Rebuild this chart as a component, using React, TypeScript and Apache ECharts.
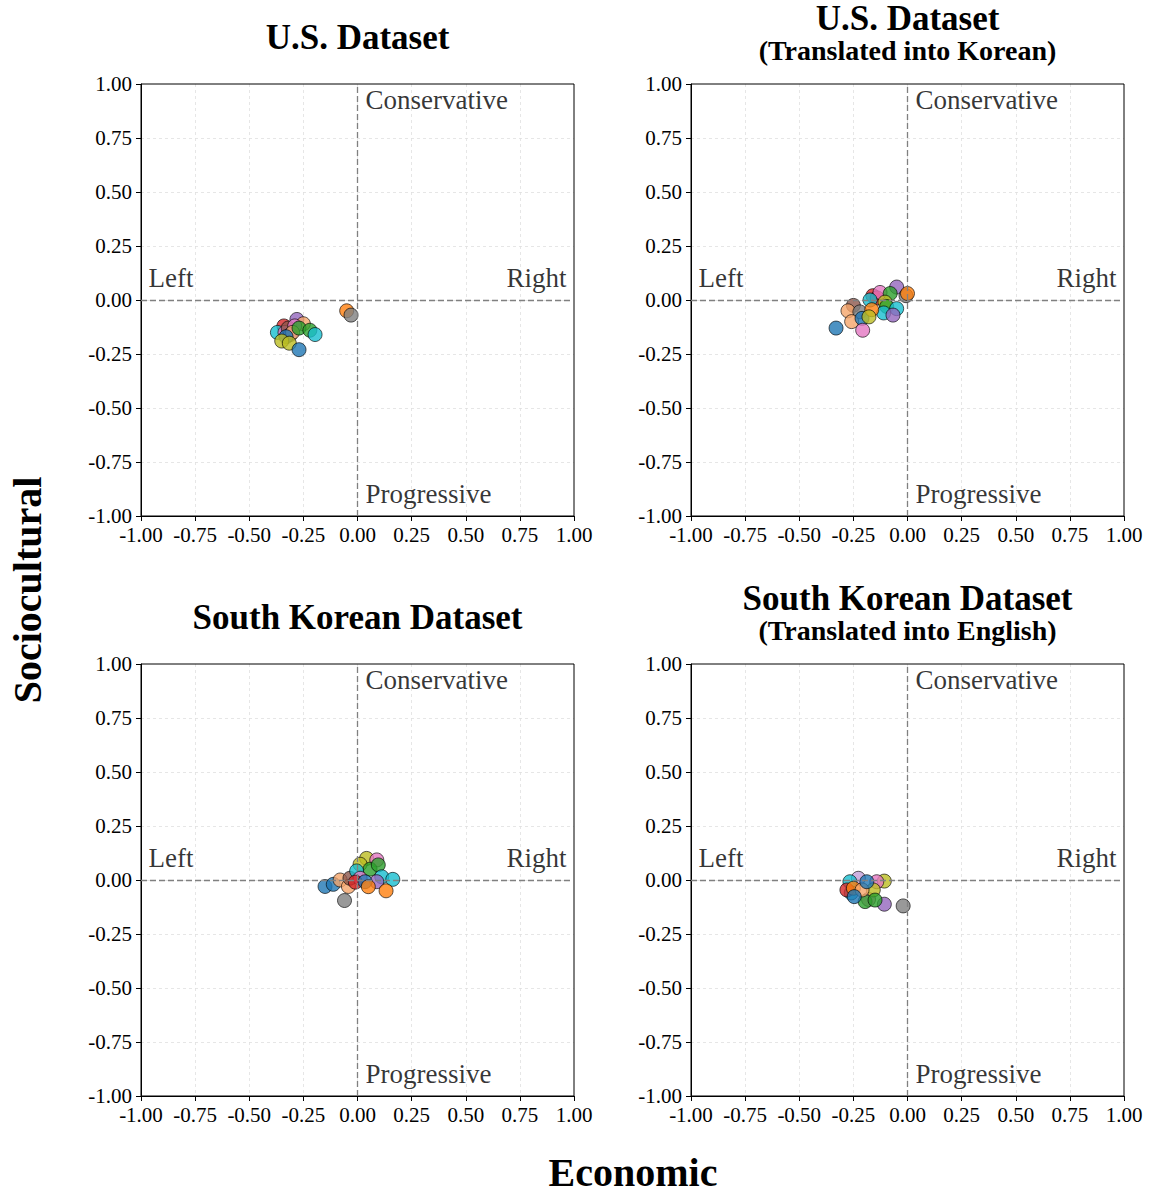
import React, { useEffect, useRef } from "react";
import * as echarts from "echarts";

const C = {
  blue: "#1f77b4", orange: "#ff7f0e", green: "#2ca02c", red: "#d62728", purple: "#9467bd",
  brown: "#8c564b", pink: "#e377c2", gray: "#7f7f7f", olive: "#bcbd22", cyan: "#17becf",
  peach: "#f5a56a", lilac: "#c29fd8",
};

const panelTitles = ["U.S. Dataset", "U.S. Dataset", "South Korean Dataset", "South Korean Dataset"];
const panelSubtitles = ["", "(Translated into Korean)", "", "(Translated into English)"];

// Panel 1: U.S. Dataset
const usX = [-0.05, -0.03, -0.28, -0.34, -0.37, -0.335, -0.25, -0.32, -0.29, -0.31, -0.30, -0.27, -0.22, -0.196, -0.33, -0.35, -0.315, -0.27];
const usY = [-0.05, -0.07, -0.09, -0.12, -0.15, -0.15, -0.11, -0.13, -0.12, -0.16, -0.15, -0.13, -0.14, -0.16, -0.17, -0.19, -0.20, -0.23];
const usC = ["orange", "gray", "purple", "red", "cyan", "pink", "peach", "brown", "pink", "purple", "peach", "green", "green", "cyan", "blue", "olive", "olive", "blue"];

// Panel 2: U.S. Dataset translated into Korean
const usKoX = [-0.33, -0.05, -0.007, 0.0, -0.16, -0.14, -0.127, -0.08, -0.173, -0.104, -0.096, -0.05, -0.11, -0.067, -0.25, -0.275, -0.22, -0.258, -0.21, -0.165, -0.178, -0.207];
const usKoY = [-0.13, 0.06, 0.02, 0.03, 0.02, 0.01, 0.035, 0.03, 0.0, -0.01, -0.03, -0.04, -0.06, -0.07, -0.025, -0.05, -0.055, -0.10, -0.085, -0.045, -0.078, -0.14];
const usKoC = ["blue", "purple", "gray", "orange", "red", "red", "pink", "green", "cyan", "olive", "green", "cyan", "cyan", "purple", "brown", "peach", "gray", "peach", "blue", "orange", "olive", "pink"];

// Panel 3: South Korean Dataset
const krX = [-0.15, -0.112, -0.06, -0.08, -0.042, -0.035, 0.042, 0.012, 0.089, 0.058, 0.096, -0.004, 0.112, 0.163, 0.012, -0.01, 0.089, 0.035, 0.05, 0.132];
const krY = [-0.03, -0.02, -0.095, 0.0, -0.03, 0.008, 0.10, 0.073, 0.093, 0.05, 0.07, 0.042, 0.015, 0.003, 0.008, -0.01, -0.008, -0.008, -0.031, -0.05];
const krC = ["blue", "blue", "gray", "peach", "peach", "brown", "olive", "olive", "pink", "green", "green", "cyan", "cyan", "cyan", "pink", "red", "purple", "blue", "orange", "orange"];

// Panel 4: South Korean Dataset translated into English
const krEnX = [-0.02, -0.107, -0.107, -0.142, -0.18, -0.158, -0.196, -0.15, -0.227, -0.266, -0.26, -0.28, -0.25, -0.21, -0.188, -0.246];
const krEnY = [-0.12, -0.005, -0.112, -0.008, -0.09, -0.046, -0.10, -0.093, 0.008, -0.008, -0.06, -0.046, -0.038, -0.046, -0.008, -0.077];
const krEnC = ["gray", "olive", "purple", "pink", "pink", "olive", "green", "green", "lilac", "cyan", "cyan", "red", "orange", "peach", "blue", "blue"];

const panelX = [usX, usKoX, krX, krEnX];
const panelY = [usY, usKoY, krY, krEnY];
const panelC = [usC, usKoC, krC, krEnC];

const annotations = [
  { name: "Conservative", x: 0.035, y: 0.925, align: "left" },
  { name: "Progressive", x: 0.035, y: -0.9, align: "left" },
  { name: "Left", x: -0.968, y: 0.1, align: "left" },
  { name: "Right", x: 0.968, y: 0.1, align: "right" },
];

const FONT = "'Liberation Serif', 'Times New Roman', serif";

const grids = [
  { left: 141, top: 84, width: 433, height: 432 },
  { left: 691, top: 84, width: 433, height: 432 },
  { left: 141, top: 664, width: 433, height: 432 },
  { left: 691, top: 664, width: 433, height: 432 },
];

export default function App() {
  const ref = useRef<HTMLDivElement>(null);
  useEffect(() => {
    document.body.style.margin = "0";
    if (!ref.current) return;
    const chart = echarts.init(ref.current, null, { renderer: "svg" });
    const fmt = (v: number) => v.toFixed(2);
    const split = { show: true, showMinLine: false, showMaxLine: false, lineStyle: { color: "#e0e0e0", type: [3, 3], width: 0.8 } };
    const xAxis = grids.map((_, i) => ({
      type: "value", gridIndex: i, min: -1, max: 1, interval: 0.25,
      axisLine: { show: true, onZero: false, lineStyle: { color: "#000", width: 1 } },
      axisTick: { show: true, length: 5, lineStyle: { color: "#000" } },
      axisLabel: { formatter: fmt, color: "#000", fontSize: 21, fontFamily: FONT, margin: 8, showMinLabel: true, showMaxLabel: true },
      splitLine: split,
    }));
    const yAxis = grids.map((_, i) => ({
      type: "value", gridIndex: i, min: -1, max: 1, interval: 0.25,
      axisLine: { show: true, onZero: false, lineStyle: { color: "#000", width: 1 } },
      axisTick: { show: true, length: 5, lineStyle: { color: "#000" } },
      axisLabel: { formatter: fmt, color: "#000", fontSize: 21, fontFamily: FONT, margin: 9, showMinLabel: true, showMaxLabel: true },
      splitLine: split,
    }));
    const series: any[] = [];
    grids.forEach((_, i) => {
      series.push({
        type: "scatter", xAxisIndex: i, yAxisIndex: i, silent: true,
        symbolSize: 1,
        itemStyle: { color: "rgba(255,255,255,0)" },
        data: annotations.map((a) => ({
          value: [a.x, a.y],
          label: {
            show: true, formatter: a.name, position: a.align === "left" ? "right" : "left", distance: 0,
            align: a.align, verticalAlign: "middle", color: "#000", fontSize: 27, fontFamily: FONT,
            textBorderWidth: 0,
          },
        })),
        markLine: {
          silent: true, symbol: ["none", "none"], animation: false,
          label: { show: false },
          lineStyle: { color: "#808080", type: [6, 3], width: 1.3 },
          data: [{ xAxis: 0 }, { yAxis: 0 }],
        },
        z: 1,
      });
      series.push({
        type: "scatter", xAxisIndex: i, yAxisIndex: i, symbolSize: 14, z: 3,
        data: panelX[i].map((x, k) => ({
          value: [x, panelY[i][k]],
          itemStyle: { color: (C as any)[panelC[i][k]] },
        })),
        itemStyle: { opacity: 0.8, borderColor: "#000", borderWidth: 0.8 },
      });
    });
    const centers = [357.5, 907.5, 357.5, 907.5];
    const graphic: any[] = [];
    grids.forEach((g, i) => {
      const hasSub = panelSubtitles[i] !== "";
      const baseY = g.top - (hasSub ? 66 : 47);
      graphic.push({
        type: "text", x: centers[i], y: baseY, silent: true,
        style: { text: panelTitles[i], font: `bold 35px ${FONT}`, fill: "#000", textAlign: "center", textVerticalAlign: "middle" },
      });
      if (hasSub) {
        graphic.push({
          type: "text", x: centers[i], y: baseY + 32, silent: true,
          style: { text: panelSubtitles[i], font: `bold 28px ${FONT}`, fill: "#000", textAlign: "center", textVerticalAlign: "middle" },
        });
      }
    });
    graphic.push({
      type: "text", x: 633, y: 1172, silent: true,
      style: { text: "Economic", font: `bold 40px ${FONT}`, fill: "#000", textAlign: "center", textVerticalAlign: "middle" },
    });
    graphic.push({
      type: "text", x: 27, y: 590, rotation: Math.PI / 2, silent: true,
      style: { text: "Sociocultural", font: `bold 40px ${FONT}`, fill: "#000", textAlign: "center", textVerticalAlign: "middle" },
    });
    chart.setOption({
      animation: false,
      backgroundColor: "#fff",
      grid: grids.map((g) => ({ ...g, show: true, borderColor: "#000", borderWidth: 1, backgroundColor: "transparent", z: 5 })),
      xAxis, yAxis, series, graphic,
    });
    return () => chart.dispose();
  }, []);
  return <div ref={ref} style={{ width: 1153, height: 1194 }} />;
}
